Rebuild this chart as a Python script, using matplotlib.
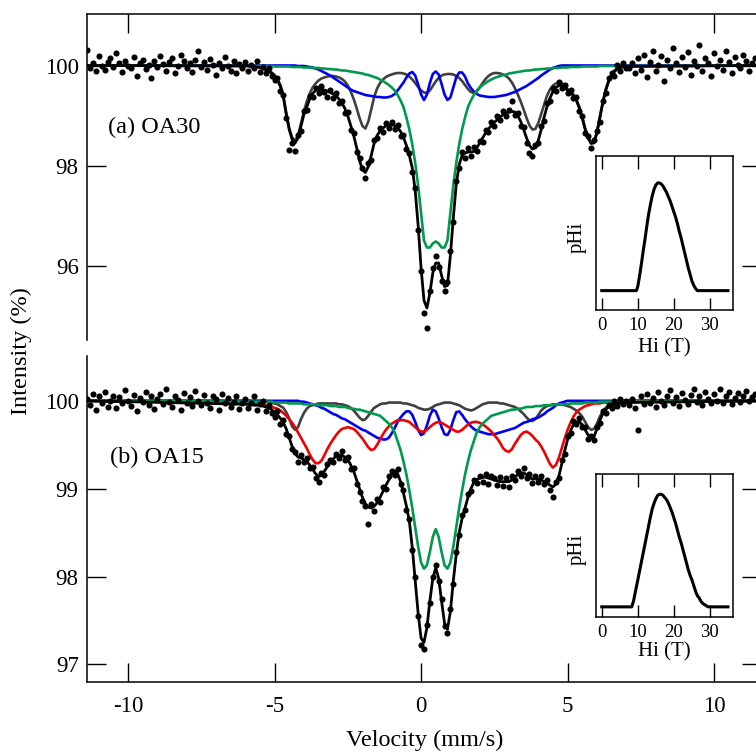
import numpy as np
import matplotlib
matplotlib.use('Agg')
import matplotlib.pyplot as plt

plt.rcParams['font.family'] = ['Liberation Serif', 'DejaVu Serif']
plt.rcParams['axes.unicode_minus'] = False

# velocity channels (mm/s)
vel = np.round(np.arange(-6.0, 7.01, 0.1), 2)          # fit curves, active part
vel_data = np.round(np.arange(-11.4, 11.41, 0.1), 2)   # measured points
v_lo, v_hi = -11.4, 11.6
baseline = 100.0

# ---------------- (a) OA30 ----------------
fit_a = [
    99.99, 99.99, 99.98, 99.98, 99.97, 99.96, 99.94, 99.92, 99.89, 99.85,
    99.79, 99.7, 99.58, 99.37, 99.02, 98.72, 98.52, 98.45, 98.55, 98.78,
    99.02, 99.17, 99.33, 99.44, 99.5, 99.52, 99.52, 99.51, 99.49, 99.46,
    99.43, 99.39, 99.33, 99.25, 99.14, 98.99, 98.8, 98.6, 98.36, 98.1,
    97.91, 97.86, 97.98, 98.2, 98.45, 98.6, 98.69, 98.75, 98.79, 98.81,
    98.81, 98.8, 98.76, 98.68, 98.56, 98.4, 98.2, 97.95, 97.5, 96.8,
    95.95, 95.3, 95.15, 95.45, 95.85, 96.05, 96.05, 95.8, 95.58, 95.6,
    96.2, 96.95, 97.62, 98.02, 98.2, 98.25, 98.27, 98.27, 98.28, 98.35,
    98.45, 98.55, 98.65, 98.73, 98.8, 98.86, 98.92, 98.97, 99.02, 99.05,
    99.07, 99.08, 99.07, 99.0, 98.88, 98.72, 98.55, 98.4, 98.33, 98.35,
    98.5, 98.72, 98.97, 99.18, 99.35, 99.48, 99.56, 99.6, 99.6, 99.56,
    99.5, 99.45, 99.4, 99.3, 99.15, 98.95, 98.72, 98.55, 98.44, 98.45,
    98.65, 98.95, 99.25, 99.5, 99.68, 99.8, 99.88, 99.93, 99.96, 99.97,
    99.98]
gray_a = [
    100.0, 100.0, 99.99, 99.99, 99.98, 99.96, 99.94, 99.92, 99.89, 99.86,
    99.81, 99.73, 99.61, 99.4, 99.05, 98.75, 98.56, 98.5, 98.6, 98.83,
    99.08, 99.28, 99.44, 99.56, 99.64, 99.7, 99.74, 99.76, 99.78, 99.79,
    99.79, 99.78, 99.76, 99.73, 99.68, 99.6, 99.48, 99.33, 99.15, 98.95,
    98.79, 98.74, 98.88, 99.12, 99.37, 99.54, 99.65, 99.72, 99.77, 99.8,
    99.82, 99.84, 99.85, 99.85, 99.84, 99.82, 99.78, 99.72, 99.65, 99.57,
    99.5, 99.46, 99.45, 99.5, 99.59, 99.68, 99.75, 99.8, 99.82, 99.83,
    99.83, 99.82, 99.79, 99.75, 99.69, 99.61, 99.53, 99.47, 99.45, 99.48,
    99.56, 99.65, 99.73, 99.79, 99.83, 99.85, 99.85, 99.84, 99.82, 99.79,
    99.74, 99.66, 99.55, 99.42, 99.28, 99.12, 98.95, 98.8, 98.72, 98.73,
    98.85, 99.03, 99.22, 99.4, 99.52, 99.6, 99.64, 99.66, 99.65, 99.6,
    99.53, 99.47, 99.42, 99.32, 99.17, 98.97, 98.74, 98.57, 98.46, 98.47,
    98.67, 98.97, 99.27, 99.52, 99.7, 99.82, 99.9, 99.95, 99.97, 99.98,
    99.99]
blue_a = [
    100.0, 100.0, 100.0, 100.0, 100.0, 100.0, 100.0, 100.0, 100.0, 100.0,
    100.0, 100.0, 100.0, 100.0, 100.0, 100.0, 100.0, 100.0, 99.99, 99.99,
    99.99, 99.98, 99.97, 99.96, 99.94, 99.92, 99.89, 99.86, 99.83, 99.8,
    99.76, 99.72, 99.68, 99.64, 99.6, 99.56, 99.52, 99.49, 99.47, 99.45,
    99.43, 99.41, 99.4, 99.39, 99.38, 99.37, 99.37, 99.36, 99.36, 99.37,
    99.39, 99.43, 99.5, 99.58, 99.66, 99.76, 99.84, 99.87, 99.8, 99.62,
    99.42, 99.31, 99.42, 99.65, 99.83, 99.88, 99.82, 99.63, 99.42, 99.31,
    99.36, 99.56, 99.76, 99.86, 99.86, 99.78, 99.64, 99.55, 99.48, 99.43,
    99.4, 99.39, 99.38, 99.37, 99.37, 99.37, 99.38, 99.39, 99.4, 99.41,
    99.43, 99.45, 99.47, 99.5, 99.53, 99.56, 99.59, 99.63, 99.67, 99.71,
    99.75, 99.8, 99.84, 99.88, 99.92, 99.95, 99.97, 99.99, 100.0, 100.0,
    100.0, 100.0, 100.0, 100.0, 100.0, 100.0, 100.0, 100.0, 100.0, 100.0,
    100.0, 100.0, 100.0, 100.0, 100.0, 100.0, 100.0, 100.0, 100.0, 100.0,
    100.0]
green_a = [
    99.99, 99.99, 99.99, 99.99, 99.99, 99.99, 99.99, 99.99, 99.99, 99.99,
    99.98, 99.98, 99.98, 99.98, 99.98, 99.98, 99.97, 99.97, 99.97, 99.97,
    99.96, 99.96, 99.96, 99.95, 99.95, 99.95, 99.94, 99.94, 99.93, 99.93,
    99.92, 99.92, 99.91, 99.9, 99.9, 99.89, 99.88, 99.87, 99.86, 99.85,
    99.84, 99.82, 99.81, 99.79, 99.77, 99.75, 99.72, 99.69, 99.65, 99.61,
    99.56, 99.5, 99.41, 99.3, 99.17, 98.96, 98.72, 98.42, 98.05, 97.6,
    97.05, 96.5, 96.36, 96.36, 96.44, 96.48, 96.44, 96.36, 96.36, 96.5,
    97.05, 97.6, 98.05, 98.42, 98.72, 98.96, 99.17, 99.3, 99.41, 99.5,
    99.56, 99.61, 99.65, 99.69, 99.72, 99.75, 99.77, 99.79, 99.81, 99.82,
    99.84, 99.85, 99.86, 99.87, 99.88, 99.89, 99.9, 99.9, 99.91, 99.92,
    99.92, 99.93, 99.93, 99.94, 99.94, 99.95, 99.95, 99.95, 99.96, 99.96,
    99.96, 99.97, 99.97, 99.97, 99.97, 99.98, 99.98, 99.98, 99.98, 99.98,
    99.98, 99.99, 99.99, 99.99, 99.99, 99.99, 99.99, 99.99, 99.99, 99.99,
    99.99]
data_a = [
    # -11.4 .. -6.1
    100.32, 99.95, 100.05, 99.9, 100.2, 100.0, 99.92, 100.08, 100.15, 99.98,
    100.25, 100.05, 99.88, 100.1, 100.0, 99.95, 100.18, 99.8, 100.05, 100.12,
    99.93, 100.02, 99.76, 100.1, 99.97, 100.2, 100.04, 99.9, 100.08, 100.15,
    99.85, 100.0, 100.22, 100.1, 99.95, 100.05, 99.88, 100.12, 100.3, 99.98,
    100.08, 99.92, 100.14, 100.02, 99.82, 100.06, 99.96, 100.18, 100.0, 99.9,
    100.1, 99.85, 100.04, 99.96,
    # -6.0 .. 7.0
    100.08, 99.9, 100.02, 99.95, 100.1, 99.88, 99.98, 99.85, 99.95, 99.8,
    99.72, 99.75, 99.5, 99.42, 98.95, 98.32, 98.45, 98.3, 98.62, 98.7,
    99.1, 99.12, 99.4, 99.38, 99.55, 99.45, 99.6, 99.47, 99.38, 99.52,
    99.35, 99.45, 99.25, 99.3, 99.05, 99.08, 98.72, 98.65, 98.28, 98.15,
    97.95, 97.75, 98.05, 98.12, 98.52, 98.55, 98.75, 98.68, 98.85, 98.76,
    98.88, 98.74, 98.82, 98.6, 98.62, 98.33, 98.25, 97.88, 97.55, 96.72,
    95.9, 95.05, 94.75, 95.5, 95.95, 96.2, 95.98, 95.7, 95.5, 95.68,
    96.3, 96.88, 97.7, 97.95, 98.28, 98.15, 98.35, 98.2, 98.38, 98.3,
    98.5, 98.48, 98.72, 98.68, 98.88, 98.8, 99.0, 98.92, 99.1, 99.0,
    99.12, 99.3, 99.02, 99.05, 98.8, 98.78, 98.45, 98.25, 98.2, 98.42,
    98.45, 98.8, 98.9, 99.25, 99.3, 99.55, 99.5, 99.68, 99.55, 99.62,
    99.45, 99.52, 99.35, 99.38, 99.1, 99.0, 98.65, 98.6, 98.35, 98.52,
    98.7, 98.88, 99.3, 99.45, 99.75, 99.85, 99.8, 100.02, 99.9, 100.05,
    99.95,
    # 7.1 .. 11.4
    99.95, 100.05, 99.85, 100.15, 99.92, 100.22, 99.78, 100.08, 100.3, 99.9,
    100.02, 100.2, 99.7, 100.12, 99.95, 100.35, 100.05, 99.88, 100.18, 99.98,
    100.28, 99.82, 100.1, 100.0, 100.42, 99.9, 100.15, 100.05, 99.8, 100.25,
    100.0, 100.12, 99.92, 100.3, 100.08, 99.86, 100.18, 100.02, 99.95, 100.22,
    100.1, 99.9, 100.05, 100.15]

# ---------------- (b) OA15 ----------------
fit_b = [
    99.96, 99.96, 99.96, 99.95, 99.95, 99.95, 99.94, 99.93, 99.92, 99.9,
    99.87, 99.84, 99.8, 99.75, 99.68, 99.58, 99.48, 99.4, 99.36, 99.35,
    99.33, 99.31, 99.27, 99.22, 99.17, 99.14, 99.15, 99.2, 99.25, 99.3,
    99.34, 99.37, 99.38, 99.38, 99.36, 99.33, 99.27, 99.2, 99.1, 99.0,
    98.9, 98.83, 98.79, 98.78, 98.8, 98.84, 98.9, 98.97, 99.04, 99.1,
    99.16, 99.2, 99.17, 99.08, 98.95, 98.8, 98.63, 98.33, 97.96, 97.58,
    97.3, 97.25, 97.42, 97.72, 97.98, 98.1, 97.98, 97.72, 97.47, 97.4,
    97.6, 97.95, 98.25, 98.5, 98.66, 98.78, 98.9, 99.0, 99.07, 99.1,
    99.12, 99.13, 99.13, 99.12, 99.11, 99.1, 99.09, 99.08, 99.08, 99.08,
    99.08, 99.1, 99.13, 99.16, 99.18, 99.18, 99.16, 99.13, 99.11, 99.11,
    99.11, 99.1, 99.08, 99.06, 99.04, 99.02, 99.05, 99.14, 99.28, 99.43,
    99.56, 99.66, 99.73, 99.76, 99.76, 99.73, 99.67, 99.61, 99.58, 99.59,
    99.68, 99.78, 99.85, 99.9, 99.93, 99.95, 99.96, 99.97, 99.97, 99.98,
    99.98]
gray_b = [
    100.0, 100.0, 100.0, 100.0, 100.0, 100.0, 99.99, 99.99, 99.99, 99.98,
    99.97, 99.96, 99.94, 99.92, 99.87, 99.8, 99.71, 99.67, 99.7, 99.79,
    99.86, 99.91, 99.94, 99.95, 99.96, 99.97, 99.97, 99.97, 99.97, 99.97,
    99.97, 99.97, 99.96, 99.96, 99.95, 99.94, 99.92, 99.89, 99.85, 99.81,
    99.78, 99.79, 99.83, 99.88, 99.92, 99.94, 99.96, 99.97, 99.97, 99.98,
    99.98, 99.98, 99.98, 99.98, 99.97, 99.97, 99.96, 99.95, 99.94, 99.92,
    99.91, 99.9, 99.9, 99.91, 99.93, 99.95, 99.96, 99.97, 99.98, 99.98,
    99.98, 99.97, 99.96, 99.95, 99.93, 99.91, 99.9, 99.89, 99.9, 99.92,
    99.94, 99.96, 99.97, 99.98, 99.98, 99.98, 99.98, 99.97, 99.97, 99.96,
    99.95, 99.94, 99.93, 99.91, 99.88, 99.85, 99.81, 99.78, 99.77, 99.79,
    99.84, 99.89, 99.92, 99.94, 99.95, 99.96, 99.96, 99.96, 99.96, 99.95,
    99.94, 99.93, 99.91, 99.89, 99.86, 99.82, 99.76, 99.7, 99.67, 99.68,
    99.74, 99.82, 99.88, 99.92, 99.95, 99.97, 99.98, 99.99, 99.99, 100.0,
    100.0]
blue_b = [
    100.0, 100.0, 100.0, 100.0, 100.0, 100.0, 100.0, 100.0, 100.0, 100.0,
    100.0, 100.0, 100.0, 100.0, 100.0, 100.0, 100.0, 100.0, 100.0, 99.99,
    99.99, 99.98, 99.97, 99.96, 99.95, 99.94, 99.92, 99.91, 99.89, 99.87,
    99.85, 99.84, 99.82, 99.8, 99.79, 99.77, 99.75, 99.73, 99.71, 99.69,
    99.67, 99.66, 99.64, 99.62, 99.6, 99.58, 99.57, 99.56, 99.56, 99.58,
    99.63, 99.69, 99.76, 99.81, 99.85, 99.88, 99.88, 99.84, 99.76, 99.67,
    99.61, 99.63, 99.72, 99.83, 99.9, 99.88, 99.8, 99.7, 99.62, 99.61,
    99.67, 99.78, 99.87, 99.88, 99.84, 99.79, 99.75, 99.71, 99.68, 99.66,
    99.65, 99.64, 99.63, 99.62, 99.62, 99.62, 99.63, 99.64, 99.65, 99.66,
    99.67, 99.68, 99.69, 99.71, 99.73, 99.75, 99.76, 99.77, 99.79, 99.8,
    99.81, 99.83, 99.85, 99.88, 99.9, 99.92, 99.95, 99.97, 99.98, 99.99,
    100.0, 100.0, 100.0, 100.0, 100.0, 100.0, 100.0, 100.0, 100.0, 100.0,
    100.0, 100.0, 100.0, 100.0, 100.0, 100.0, 100.0, 100.0, 100.0, 100.0,
    100.0]
red_b = [
    99.97, 99.97, 99.97, 99.96, 99.96, 99.96, 99.95, 99.95, 99.94, 99.93,
    99.92, 99.91, 99.89, 99.86, 99.83, 99.79, 99.75, 99.7, 99.64, 99.58,
    99.52, 99.46, 99.39, 99.33, 99.29, 99.29, 99.32, 99.38, 99.45, 99.51,
    99.56, 99.61, 99.65, 99.68, 99.69, 99.7, 99.69, 99.68, 99.65, 99.61,
    99.57, 99.52, 99.47, 99.44, 99.45, 99.5, 99.56, 99.62, 99.67, 99.71,
    99.74, 99.76, 99.78, 99.78, 99.78, 99.77, 99.76, 99.73, 99.7, 99.67,
    99.65, 99.65, 99.67, 99.7, 99.73, 99.75, 99.76, 99.75, 99.73, 99.71,
    99.69, 99.67, 99.65, 99.65, 99.67, 99.7, 99.73, 99.75, 99.76, 99.76,
    99.75, 99.73, 99.71, 99.68, 99.65, 99.61, 99.57, 99.52, 99.46, 99.43,
    99.42, 99.45, 99.51, 99.56, 99.61, 99.64, 99.65, 99.63, 99.6, 99.56,
    99.53, 99.48, 99.42, 99.35, 99.28, 99.24, 99.27, 99.35, 99.46, 99.57,
    99.67, 99.75, 99.82, 99.87, 99.9, 99.92, 99.94, 99.95, 99.96, 99.97,
    99.97, 99.97, 99.98, 99.98, 99.98, 99.99, 99.99, 99.99, 99.99, 100.0,
    100.0]
green_b = [
    99.99, 99.99, 99.99, 99.99, 99.99, 99.99, 99.99, 99.99, 99.99, 99.99,
    99.98, 99.98, 99.98, 99.98, 99.98, 99.97, 99.97, 99.97, 99.97, 99.97,
    99.96, 99.96, 99.96, 99.96, 99.96, 99.95, 99.95, 99.95, 99.95, 99.94,
    99.94, 99.94, 99.93, 99.93, 99.93, 99.92, 99.91, 99.91, 99.9, 99.9,
    99.89, 99.88, 99.87, 99.86, 99.85, 99.84, 99.83, 99.8, 99.77, 99.74,
    99.7, 99.64, 99.54, 99.44, 99.31, 99.16, 98.98, 98.78, 98.56, 98.34,
    98.16, 98.09, 98.13, 98.28, 98.45, 98.54, 98.45, 98.28, 98.13, 98.09,
    98.16, 98.34, 98.56, 98.78, 98.98, 99.16, 99.31, 99.44, 99.54, 99.64,
    99.7, 99.74, 99.77, 99.8, 99.83, 99.84, 99.85, 99.86, 99.87, 99.88,
    99.89, 99.9, 99.9, 99.91, 99.91, 99.92, 99.93, 99.93, 99.93, 99.94,
    99.94, 99.94, 99.95, 99.95, 99.95, 99.95, 99.96, 99.96, 99.96, 99.96,
    99.96, 99.97, 99.97, 99.97, 99.97, 99.97, 99.98, 99.98, 99.98, 99.98,
    99.98, 99.99, 99.99, 99.99, 99.99, 99.99, 99.99, 99.99, 99.99, 99.99,
    99.99]
data_b = [
    # -11.4 .. -6.1
    100.02, 99.95, 100.08, 99.9, 100.05, 99.98, 100.1, 99.93, 100.0, 100.06,
    99.92, 100.04, 99.97, 100.12, 100.0, 99.94, 100.07, 99.88, 100.03, 99.99,
    100.1, 99.95, 100.05, 99.91, 100.02, 100.08, 99.96, 100.13, 99.99, 99.93,
    100.06, 100.01, 99.9, 100.09, 99.97, 100.04, 99.94, 100.11, 100.0, 99.95,
    100.07, 99.98, 99.92, 100.05, 100.02, 99.9, 100.08, 99.97, 100.03, 99.93,
    99.99, 100.06, 99.91, 99.97,
    # -6.0 .. 7.0
    100.02, 99.92, 99.98, 100.05, 99.9, 99.96, 100.0, 99.88, 99.95, 99.86,
    99.82, 99.88, 99.74, 99.78, 99.62, 99.6, 99.45, 99.42, 99.3, 99.38,
    99.3, 99.35, 99.24, 99.25, 99.12, 99.08, 99.18, 99.16, 99.28, 99.33,
    99.3, 99.4, 99.35, 99.43, 99.33, 99.36, 99.22, 99.24, 99.05, 98.96,
    98.86, 98.8, 98.6, 98.83, 98.75, 98.88, 98.85, 99.02, 99.0, 99.14,
    99.2, 99.16, 99.22, 99.05, 98.98, 98.76, 98.66, 98.3, 97.99, 97.55,
    97.22, 97.18, 97.45, 97.7, 98.0, 98.13, 97.95, 97.75, 97.44, 97.36,
    97.63, 97.92, 98.28, 98.47, 98.7, 98.76, 98.94, 98.97, 99.1, 99.06,
    99.15, 99.08, 99.17, 99.05, 99.14, 99.12, 99.04, 99.13, 99.03, 99.12,
    99.02, 99.14, 99.1, 99.2, 99.15, 99.24, 99.12, 99.17, 99.06, 99.14,
    99.08, 99.14, 99.05, 99.1, 98.98, 98.9, 99.08, 99.12, 99.33, 99.4,
    99.6, 99.63, 99.77, 99.74, 99.8, 99.7, 99.7, 99.56, 99.6, 99.55,
    99.7, 99.75, 99.88, 99.86, 99.95, 99.92, 100.0, 99.94, 100.02, 99.96,
    100.0,
    # 7.1 .. 11.4
    99.95, 100.02, 99.92, 99.67, 100.05, 99.96, 100.08, 99.98, 100.03, 99.93,
    100.1, 100.0, 99.95, 100.06, 100.12, 99.97, 100.04, 99.94, 100.09, 100.01,
    99.96, 100.07, 100.13, 99.99, 100.05, 99.95, 100.1, 100.02, 99.97, 100.08,
    100.0, 100.14, 99.98, 100.05, 100.1, 99.96, 100.03, 100.09, 99.99, 100.06,
    100.11, 100.0, 100.04, 100.08]

# ---------------- hyperfine field distributions ----------------
hi_a = [0, 9.6, 10.0, 10.5, 11.0, 11.5, 12.0, 12.5, 13.0, 13.5, 14.0, 14.5,
        15.0, 15.5, 16.0, 16.5, 17.0, 17.5, 18.0, 18.5, 19.0, 19.5, 20.0,
        20.5, 21.0, 21.5, 22.0, 22.5, 23.0, 23.5, 24.0, 24.5, 25.0, 25.5,
        26.0, 26.5, 35.0]
p_a = [0, 0, 0.04, 0.14, 0.25, 0.37, 0.48, 0.6, 0.71, 0.8, 0.88, 0.94,
       0.98, 1.0, 1.0, 0.99, 0.97, 0.94, 0.91, 0.87, 0.83, 0.78, 0.73,
       0.68, 0.62, 0.55, 0.49, 0.42, 0.35, 0.28, 0.21, 0.15, 0.09, 0.05,
       0.02, 0.0, 0.0]
hi_b = [0, 8.3, 8.8, 9.3, 10.0, 10.5, 11.0, 11.5, 12.0, 12.5, 13.0, 13.5,
        14.0, 14.5, 15.0, 15.5, 16.0, 16.5, 17.0, 17.5, 18.0, 18.5, 19.0,
        19.5, 20.0, 20.5, 21.0, 21.5, 22.0, 22.5, 23.0, 23.5, 24.0, 24.5,
        25.0, 25.5, 26.0, 26.5, 27.0, 27.5, 28.0, 28.5, 29.0, 29.5, 30.0,
        35.0]
p_b = [0, 0, 0.05, 0.13, 0.24, 0.32, 0.4, 0.48, 0.56, 0.64, 0.72, 0.8,
       0.87, 0.92, 0.96, 0.99, 1.0, 1.0, 0.99, 0.97, 0.95, 0.92, 0.88,
       0.84, 0.79, 0.74, 0.68, 0.62, 0.57, 0.51, 0.45, 0.39, 0.33, 0.28,
       0.24, 0.19, 0.14, 0.1, 0.08, 0.05, 0.03, 0.02, 0.01, 0.0, 0.0, 0.0]

GRAY = '#404040'
BLUE = '#0000f0'
RED = '#f00000'
GREEN = '#00994d'


def full(vals):
    # fit curves are flat at the baseline outside the active channels
    return (np.concatenate([[v_lo], vel, [v_hi]]),
            np.concatenate([[baseline], vals, [baseline]]))


def draw_panel(ax, comps, fit, data, ylim, yticks, label, label_pos):
    for vals, col in comps:
        x, y = full(vals)
        ax.plot(x, y, color=col, lw=1.9, zorder=2)
    ax.plot(vel_data, data, 'o', color='k', ms=4.4, mew=0, zorder=3)
    x, y = full(fit)
    ax.plot(x, y, color='k', lw=2.0, zorder=4)
    ax.set_xlim(v_lo, v_hi)
    ax.set_ylim(*ylim)
    ax.set_xticks([-10, -5, 0, 5, 10])
    ax.set_yticks(yticks)
    ax.tick_params(direction='in', length=13.5, width=1.0, labelsize=16.5,
                   left=True, right=True)
    ax.tick_params(axis='y', pad=6)
    for s in ax.spines.values():
        s.set_linewidth(1.1)
    ax.text(label_pos[0], label_pos[1], label, transform=ax.transAxes,
            fontsize=17.5, ha='left', va='center')


def draw_inset(rect, hi, p, ylim):
    ins = fig.add_axes(rect)
    ins.plot(hi, p, color='k', lw=2.2)
    ins.set_xlim(-1.6, 36.4)
    ins.set_ylim(*ylim)
    ins.set_xticks([0, 10, 20, 30])
    ins.set_yticks([])
    ins.tick_params(axis='x', direction='in', top=True, bottom=True,
                    length=9, width=1.0, labelsize=13.5, pad=5)
    for s in ins.spines.values():
        s.set_linewidth(1.1)
    ins.text(0.5, -0.245, 'Hi (T)', transform=ins.transAxes, fontsize=15,
             ha='center', va='center')
    ins.text(-0.14, 0.47, 'pHi', transform=ins.transAxes, fontsize=15,
             rotation=90, ha='center', va='center')


fig = plt.figure(figsize=(7.56, 7.53), dpi=100)
W, H = 756.0, 753.0
ax_a = fig.add_axes([87 / W, 1 - 340 / H, (761 - 87) / W, 326 / H])
ax_b = fig.add_axes([87 / W, 1 - 682 / H, (761 - 87) / W, 326 / H])

draw_panel(ax_a, [(gray_a, GRAY), (blue_a, BLUE), (green_a, GREEN)],
           fit_a, data_a, (94.51, 101.03), [96, 98, 100], '(a) OA30',
           (0.031, 0.652))
ax_a.spines['bottom'].set_visible(False)
ax_a.tick_params(axis='x', bottom=False, top=True, labelbottom=False)

draw_panel(ax_b, [(gray_b, GRAY), (blue_b, BLUE), (red_b, RED), (green_b, GREEN)],
           fit_b, data_b, (96.8, 100.51), [97, 98, 99, 100], '(b) OA15',
           (0.034, 0.69))
ax_b.spines['top'].set_visible(False)
ax_b.tick_params(axis='x', top=False, bottom=True, pad=10)

draw_inset([596 / W, 1 - 310 / H, 137 / W, 154 / H], hi_a, p_a, (-0.18, 1.25))
draw_inset([596 / W, 1 - 617 / H, 137 / W, 143 / H], hi_b, p_b, (-0.09, 1.18))

fig.text(21 / W, 1 - 351 / H, 'Intensity (%)', rotation=90, fontsize=17.5,
         ha='center', va='center')
fig.text(425 / W, 1 - 740 / H, 'Velocity (mm/s)', fontsize=17.5,
         ha='center', va='center')

fig.savefig('out.png', dpi=100)
